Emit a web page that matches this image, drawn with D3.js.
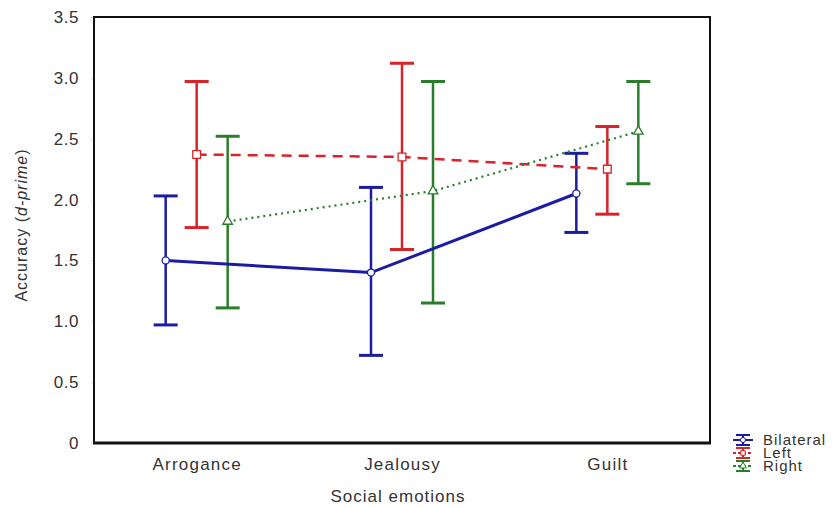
<!DOCTYPE html>
<html>
<head>
<meta charset="utf-8">
<script src="https://cdn.jsdelivr.net/npm/d3@7"></script>
<style>
  body { margin: 0; background: #fff; }
  text { font-family: "Liberation Sans", Arial, sans-serif; fill: #333; }
</style>
</head>
<body>
<svg width="839" height="508"></svg>
<script>
const width = 839;
const height = 508;

// data
const categories = ['Arrogance', 'Jealousy', 'Guilt'];
const seriesNames = ['Bilateral', 'Left', 'Right'];
const bilateralMean = [1.50, 1.40, 2.05];
const bilateralLow = [0.97, 0.72, 1.73];
const bilateralHigh = [2.03, 2.10, 2.38];
const leftMean = [2.37, 2.35, 2.25];
const leftLow = [1.77, 1.59, 1.88];
const leftHigh = [2.97, 3.12, 2.60];
const rightMean = [1.82, 2.07, 2.56];
const rightLow = [1.11, 1.15, 2.13];
const rightHigh = [2.52, 2.97, 2.97];
const yTicks = [0, 0.5, 1.0, 1.5, 2.0, 2.5, 3.0, 3.5];

const svg = d3.select('svg');

const margin = { top: 17, left: 94, right: 129, bottom: 65 };
const innerWidth = width - margin.left - margin.right;
const innerHeight = height - margin.top - margin.bottom;

const styles = {
    Bilateral: { color: '#1c1ca3', dash: null, width: 3, symbol: d3.symbolCircle, size: 40 },
    Left: { color: '#d6242a', dash: '10,7', width: 2.5, symbol: d3.symbolSquare, size: 60 },
    Right: { color: '#2a7d2a', dash: '2,4', width: 2.2, symbol: d3.symbolTriangle, size: 40 }
};

const series = [
    { name: 'Bilateral', mean: bilateralMean, low: bilateralLow, high: bilateralHigh },
    { name: 'Left', mean: leftMean, low: leftLow, high: leftHigh },
    { name: 'Right', mean: rightMean, low: rightLow, high: rightHigh }
];

const xScale = d3.scalePoint()
    .domain(categories)
    .range([0, innerWidth])
    .padding(0.5);

const offset = d3.scalePoint()
    .domain(seriesNames)
    .range([-31, 31]);

const yScale = d3.scaleLinear()
    .domain([0, 3.5])
    .range([innerHeight, 0]);

const g = svg.append('g')
    .attr('transform', 'translate(' + margin.left + ',' + margin.top + ')');

// y axis labels + little ticks
const yAxis = d3.axisLeft(yScale)
    .tickValues(yTicks)
    .tickSize(4)
    .tickPadding(11)
    .tickFormat(d => d === 0 ? '0' : d3.format('.1f')(d));

const yAxisG = g.append('g').call(yAxis);
yAxisG.select('.domain').remove();
yAxisG.selectAll('.tick line').attr('stroke', '#bbb').attr('stroke-dasharray', '1,1');
yAxisG.selectAll('.tick text')
    .attr('font-size', 17)
    .attr('letter-spacing', 0.5)
    .attr('fill', '#333');

// x axis labels
const xAxisG = g.append('g')
    .attr('transform', 'translate(0,' + innerHeight + ')')
    .call(d3.axisBottom(xScale).tickSize(0).tickPadding(15));
xAxisG.select('.domain').remove();
xAxisG.selectAll('.tick text')
    .attr('font-size', 17)
    .attr('letter-spacing', 1.2)
    .attr('fill', '#333');

g.append('text')
    .attr('x', xScale('Jealousy') - 4)
    .attr('y', innerHeight + 59)
    .attr('text-anchor', 'middle')
    .attr('font-size', 17)
    .attr('letter-spacing', 1)
    .text('Social emotions');

const yTitle = g.append('text')
    .attr('transform', 'translate(-67,' + (innerHeight / 2 - 5) + ') rotate(-90)')
    .attr('text-anchor', 'middle')
    .attr('font-size', 16)
    .attr('letter-spacing', 1);
yTitle.append('tspan').text('Accuracy (');
yTitle.append('tspan').attr('font-style', 'italic').text('d-prime');
yTitle.append('tspan').text(')');

// frame
g.append('rect')
    .attr('width', innerWidth)
    .attr('height', innerHeight)
    .attr('fill', 'none')
    .attr('stroke', '#111')
    .attr('stroke-width', 2);
g.append('line')
    .attr('x1', -1).attr('x2', innerWidth + 1)
    .attr('y1', innerHeight).attr('y2', innerHeight)
    .attr('stroke', '#111')
    .attr('stroke-width', 3);

const xPos = (s, i) => xScale(categories[i]) + offset(s.name);

// error bars
const capHalf = 12;
series.forEach(s => {
    const st = styles[s.name];
    const bars = g.append('g').attr('stroke', st.color).attr('stroke-width', 2.5);
    categories.forEach((c, i) => {
        const x = xPos(s, i);
        bars.append('line')
            .attr('x1', x).attr('x2', x)
            .attr('y1', yScale(s.low[i])).attr('y2', yScale(s.high[i]));
        [s.low[i], s.high[i]].forEach(v => {
            bars.append('line')
                .attr('x1', x - capHalf).attr('x2', x + capHalf)
                .attr('y1', yScale(v)).attr('y2', yScale(v))
                .attr('stroke-width', 3);
        });
    });
});

// mean lines
series.forEach(s => {
    const st = styles[s.name];
    const line = d3.line()
        .x((d, i) => xPos(s, i))
        .y(d => yScale(d));
    g.append('path')
        .datum(s.mean)
        .attr('d', line)
        .attr('fill', 'none')
        .attr('stroke', st.color)
        .attr('stroke-width', st.width)
        .attr('stroke-dasharray', st.dash);
});

// markers
series.forEach(s => {
    const st = styles[s.name];
    g.selectAll('.m-' + s.name)
        .data(s.mean)
        .enter()
        .append('path')
        .attr('transform', (d, i) => 'translate(' + xPos(s, i) + ',' + yScale(d) + ')')
        .attr('d', d3.symbol().type(st.symbol).size(st.size))
        .attr('fill', '#fff')
        .attr('stroke', st.color)
        .attr('stroke-width', 1.3);
});

// legend
const legend = svg.append('g')
    .attr('transform', 'translate(733,440)');

seriesNames.forEach((name, i) => {
    const st = styles[name];
    const lg = legend.append('g').attr('transform', 'translate(0,' + (i * 13) + ')');
    lg.append('line').attr('x1', 3).attr('x2', 17).attr('y1', -5).attr('y2', -5)
        .attr('stroke', st.color).attr('stroke-width', 2);
    lg.append('line').attr('x1', 3).attr('x2', 17).attr('y1', 5).attr('y2', 5)
        .attr('stroke', st.color).attr('stroke-width', 2);
    lg.append('line').attr('x1', 10).attr('x2', 10).attr('y1', -5).attr('y2', 5)
        .attr('stroke', st.color).attr('stroke-width', 2);
    lg.append('line').attr('x1', 0).attr('x2', 20).attr('y1', 0).attr('y2', 0)
        .attr('stroke', st.color).attr('stroke-width', 2)
        .attr('stroke-dasharray', st.dash ? '3,2' : null);
    lg.append('path')
        .attr('transform', 'translate(10,0)')
        .attr('d', d3.symbol().type(st.symbol).size(20))
        .attr('fill', '#fff')
        .attr('stroke', st.color)
        .attr('stroke-width', 1);
    lg.append('text')
        .attr('x', 30)
        .attr('y', 5)
        .attr('font-size', 15)
        .attr('letter-spacing', 1)
        .text(name);
});
</script>
</body>
</html>
